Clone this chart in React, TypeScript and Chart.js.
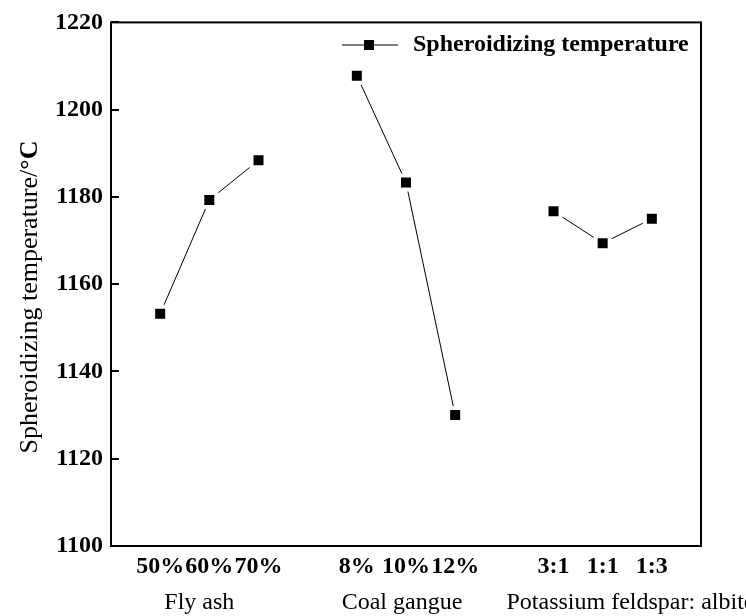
import { useEffect, useRef } from 'react';
import { Chart, registerables } from 'chart.js';

Chart.register(...registerables);

// ---- data ----
const categories = ['', '50%', '60%', '70%', '', '8%', '10%', '12%', '', '3:1', '1:1', '1:3', ''];
const temperatures: (number | null)[] = [null, 1153.2, 1179.3, 1188.4, null, 1207.8, 1183.3, 1130.0, null, 1176.7, 1169.4, 1175.0, null];
const yMin = 1100;
const yMax = 1220;
const yStep = 20;
const groupTitles = ['Fly ash', 'Coal gangue', 'Potassium feldspar: albite'];
const seriesName = 'Spheroidizing temperature';
const yTitleText = 'Spheroidizing temperature/';
const yTitleUnit = '°C';

const FONT = '"Liberation Serif", "Times New Roman", Times, serif';

const framePlugin = {
  id: 'frame',
  afterDraw(chart: any) {
    const ctx = chart.ctx as CanvasRenderingContext2D;
    const { left, right, top, bottom } = chart.chartArea;
    const ys = chart.scales.y;
    const xs = chart.scales.x;
    ctx.save();
    // frame
    ctx.strokeStyle = '#000';
    ctx.lineWidth = 2;
    ctx.strokeRect(left, top, right - left, bottom - top);
    // inward ticks on left axis
    ys.ticks.forEach((t: any) => {
      const py = Math.round(ys.getPixelForValue(t.value));
      ctx.beginPath();
      ctx.moveTo(left, py);
      ctx.lineTo(left + 8, py);
      ctx.stroke();
    });

    // legend
    const ly = 45;
    ctx.lineWidth = 1;
    ctx.beginPath();
    ctx.moveTo(342, ly);
    ctx.lineTo(398, ly);
    ctx.stroke();
    ctx.fillStyle = '#000';
    ctx.fillRect(364, ly - 5, 10, 10);
    ctx.font = `bold 24px ${FONT}`;
    ctx.textBaseline = 'middle';
    ctx.textAlign = 'left';
    ctx.fillText(seriesName, 413, ly);

    // group titles
    ctx.font = `24px ${FONT}`;
    ctx.textBaseline = 'alphabetic';
    ctx.textAlign = 'center';
    ctx.fillText(groupTitles[0], xs.getPixelForValue(2) - 10, 609);
    ctx.fillText(groupTitles[1], xs.getPixelForValue(6) - 4, 609);
    ctx.textAlign = 'left';
    ctx.fillText(groupTitles[2], xs.getPixelForValue(9) - 47, 609);

    // y title
    ctx.translate(30, 297);
    ctx.rotate(-Math.PI / 2);
    ctx.textBaseline = 'middle';
    ctx.font = `26px ${FONT}`;
    const w1 = ctx.measureText(yTitleText).width;
    ctx.font = `bold 26px ${FONT}`;
    const w2 = ctx.measureText(yTitleUnit).width;
    const start = -(w1 + w2) / 2;
    ctx.textAlign = 'left';
    ctx.font = `26px ${FONT}`;
    ctx.fillText(yTitleText, start, 0);
    ctx.font = `bold 26px ${FONT}`;
    ctx.fillText(yTitleUnit, start + w1, 0);
    ctx.restore();
  },
};

export default function App() {
  const ref = useRef<HTMLCanvasElement>(null);
  useEffect(() => {
    if (!ref.current) return;
    const chart = new Chart(ref.current, {
      type: 'line',
      data: {
        labels: categories,
        datasets: [
          {
            label: seriesName,
            data: temperatures,
            borderColor: '#000',
            borderWidth: 1,
            pointStyle: 'rect',
            pointRadius: 9.9,
            pointBackgroundColor: '#000',
            pointBorderColor: '#fff',
            pointBorderWidth: 4,
            spanGaps: false,
            tension: 0,
          },
        ],
      },
      options: {
        responsive: false,
        animation: false,
        devicePixelRatio: 1,
        layout: { padding: { left: 0, top: 21, right: 45, bottom: 0 } },
        plugins: { legend: { display: false }, tooltip: { enabled: false } },
        scales: {
          x: {
            type: 'category',
            offset: false,
            grid: { display: false, drawTicks: false },
            border: { display: false },
            ticks: {
              autoSkip: false,
              maxRotation: 0,
              minRotation: 0,
              padding: 6,
              color: '#000',
              font: { family: FONT, size: 24, weight: 'bold' },
            },
            afterFit(scale: any) {
              scale.height = 70;
            },
          },
          y: {
            min: yMin,
            max: yMax,
            grid: { display: false, drawTicks: false },
            border: { display: false },
            ticks: {
              stepSize: yStep,
              padding: 8,
              color: '#000',
              font: { family: FONT, size: 24, weight: 'bold' },
              callback: (v: any) => String(v),
            },
            afterFit(scale: any) {
              scale.width = 111;
            },
          },
        },
      },
      plugins: [framePlugin],
    });
    return () => chart.destroy();
  }, []);
  return (
    <div style={{ position: 'absolute', left: 0, top: 0, width: 746, height: 616, background: '#fff' }}>
      <canvas ref={ref} width={746} height={616} style={{ display: 'block' }} />
    </div>
  );
}
